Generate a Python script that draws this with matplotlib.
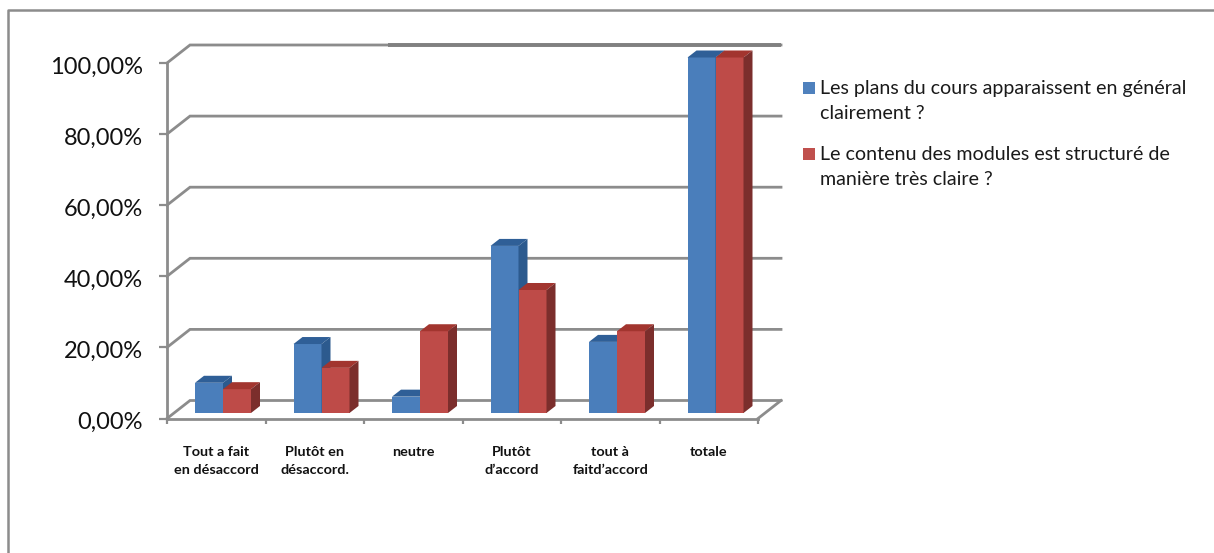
#--------------------------Librerias--------------------------------------------
import numpy as np
import matplotlib
matplotlib.use('Agg')
import matplotlib.pyplot as plt
from matplotlib.patches import Polygon, Rectangle
from matplotlib.lines import Line2D
from matplotlib.transforms import ScaledTranslation
#------------------------------------------------------------------------------

#--------------------------Datos-------------------------------------------------
categories = ['Tout a fait\nen désaccord', 'Plutôt en\ndésaccord.', 'neutre',
              'Plutôt\nd’accord', 'tout à\nfaitd’accord', 'totale']
plans = [8.5, 19.4, 4.6, 47.0, 20.0, 100.0]
contenu = [6.7, 12.7, 23.0, 34.6, 23.0, 100.0]
yticks = [0, 20, 40, 60, 80, 100]
ylabels = ['0,00%', '20,00%', '40,00%', '60,00%', '80,00%', '100,00%']
legend1 = 'Les plans du cours apparaissent en général\nclairement ?'
legend2 = 'Le contenu des modules est structuré de\nmanière très claire ?'
#------------------------------------------------------------------------------

W, H = 1214, 553
GREY = '#8c8c8c'
plt.rcParams['font.family'] = ['Lato', 'DejaVu Sans']

fig = plt.figure(figsize=(W/100, H/100), dpi=100, facecolor='white')
# ejes: x de 167 a 758 px, y de 418 (0 %) a 63 (100 %)
ax = fig.add_axes([167/W, 1-418.5/H, 591/W, 355.5/H])
ax.set_xlim(0, 6)
ax.set_ylim(0, 100)
ax.patch.set_visible(False)

px = 6/591.0     # unidades x por pixel
py = 100/355.5   # unidades y por pixel

# profundidad de la caja y de las barras
dx_wall, dy_wall = 23*px, 18*py
dx_bar, dy_bar = 9*px, 7*py
base = 5.5*py
bar_w = 28*px
bar_off = 28*px

#---------------------------------Rejilla----------------------------------------
for v in yticks:
    ax.plot([0, dx_wall, 6+dx_wall], [v, v+dy_wall, v+dy_wall], c=GREY, lw=2.0,
            clip_on=False, zorder=1, solid_joinstyle='miter')
# la parte derecha de la linea superior es mas gruesa
ax.plot([221*px, 6+dx_wall], [100+dy_wall]*2, c='#808080', lw=2.8,
        clip_on=False, zorder=1, solid_capstyle='butt')
ax.plot([6, 6+dx_wall], [0, dy_wall], c=GREY, lw=2.0, clip_on=False, zorder=1)

#---------------------------------Barras-----------------------------------------
def bar3d(x, v, front, top, side):
    ax.bar(x, v, width=bar_w, bottom=base, align='edge', color=front, lw=0, zorder=3, clip_on=False)
    y1 = base + v
    ax.add_patch(Polygon([(x, y1), (x+dx_bar, y1+dy_bar), (x+bar_w+dx_bar, y1+dy_bar), (x+bar_w, y1)],
                         fc=top, lw=0, zorder=3, clip_on=False))
    ax.add_patch(Polygon([(x+bar_w, base), (x+bar_w+dx_bar, base+dy_bar), (x+bar_w+dx_bar, y1+dy_bar), (x+bar_w, y1)],
                         fc=side, lw=0, zorder=3, clip_on=False))

for i in range(len(categories)):
    bar3d(i+bar_off, plans[i], '#4a7ebb', '#2f5f97', '#2c5a8e')
    bar3d(i+bar_off+bar_w, contenu[i], '#be4b48', '#a2352f', '#7b2e2c')

#---------------------------------Ejes-------------------------------------------
for s in ['top', 'right']:
    ax.spines[s].set_visible(False)
for s in ['left', 'bottom']:
    ax.spines[s].set_color(GREY)
    ax.spines[s].set_linewidth(2.0)
    ax.spines[s].set_zorder(2)

ax.set_yticks(yticks)
ax.set_yticklabels(ylabels, fontsize=17, color='#111111')
ax.tick_params(axis='y', length=5.5, width=1.6, color=GREY, pad=12)
ax.set_xticks(np.arange(7))
ax.set_xticklabels([])
ax.tick_params(axis='x', length=3.5, width=1.6, color=GREY)
ax.set_xticks(np.arange(6)+0.5, minor=True)
ax.set_xticklabels(categories, minor=True, fontsize=10.4, fontweight='bold',
                   color='#111111', linespacing=1.55)
ax.tick_params(axis='x', which='minor', length=0, pad=20)

# etiquetas del eje y un poco por debajo de su marca
down = ScaledTranslation(0, -2/100, fig.dpi_scale_trans)
for lab in ax.get_yticklabels():
    lab.set_transform(lab.get_transform()+down)

#---------------------------------Leyenda----------------------------------------
def fx(p): return p/W
def fy(p): return 1-p/H

for top_px, col, txt in [(82, '#4f81bd', legend1), (148, '#c0504d', legend2)]:
    fig.patches.append(Rectangle((fx(803), fy(top_px+12)), 12/W, 12/H, transform=fig.transFigure,
                                 fc=col, lw=0))
    fig.text(fx(820), fy(top_px+19), txt, fontsize=14.1, color='#1a1a1a', va='center', ha='left', linespacing=1.55)

#---------------------------------Marco------------------------------------------
fig.add_artist(Line2D([fx(8), fx(8), fx(W)], [fy(H), fy(9.5), fy(9.5)], color=GREY, lw=1.8,
                      transform=fig.transFigure))

fig.savefig('out.png', dpi=100)
